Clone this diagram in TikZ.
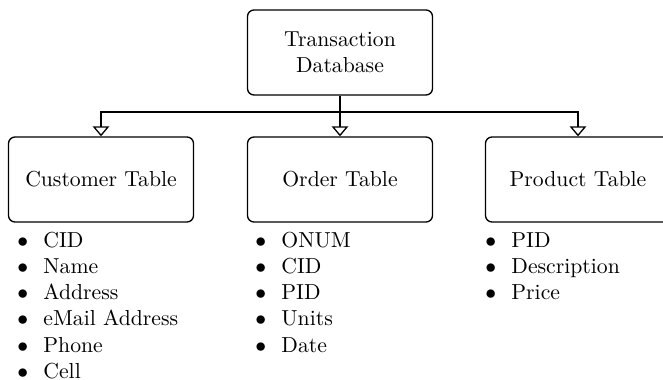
\documentclass[tikz,border=0pt]{standalone}
\usetikzlibrary{arrows.meta}
\begin{document}
\begin{tikzpicture}[x=0.4608pt, y=-0.4608pt,
  box/.style={draw, line width=0.6pt, rounded corners=3pt, minimum width=185*0.4608pt,
    minimum height=85*0.4608pt, align=center, inner sep=0pt},
  conn/.style={line width=0.7pt, -{Triangle[open, length=4.6pt, width=7.6pt, line width=0.6pt]}},
  entry/.style={anchor=base west, inner sep=0pt}]
  \useasboundingbox (0,0) rectangle (663,380);

  % tables
  \node[box] (db) at (340,52.5) {Transaction\\Database};
  \node[box] (cust) at (101,179.5) {Customer Table};
  \node[box] (ord) at (340,179.5) {Order Table};
  \node[box] (prod) at (578,179.5) {Product Table};

  % connectors from the database to each table
  \coordinate (bus) at (340,112);
  \draw[conn] (db.south) -- (bus) -| (cust.north);
  \draw[conn] (db.south) -- (bus) -- (ord.north);
  \draw[conn] (db.south) -- (bus) -| (prod.north);

  % field lists
  \newcommand{\fld}[1]{\llap{$\bullet$\hspace{7pt}}#1}
  \foreach \t [count=\i] in {CID, Name, Address, eMail Address, Phone, Cell}
    \node[entry] (c\i) at (43, 247+26.25*\i-26.25) {\fld{\t}};
  \foreach \t [count=\i] in {ONUM, CID, PID, Units, Date}
    \node[entry] (o\i) at (281, 247+26.25*\i-26.25) {\fld{\t}};
  \foreach \t [count=\i] in {PID, Description, Price}
    \node[entry] (p\i) at (511, 247+26.25*\i-26.25) {\fld{\t}};
\end{tikzpicture}
\end{document}
